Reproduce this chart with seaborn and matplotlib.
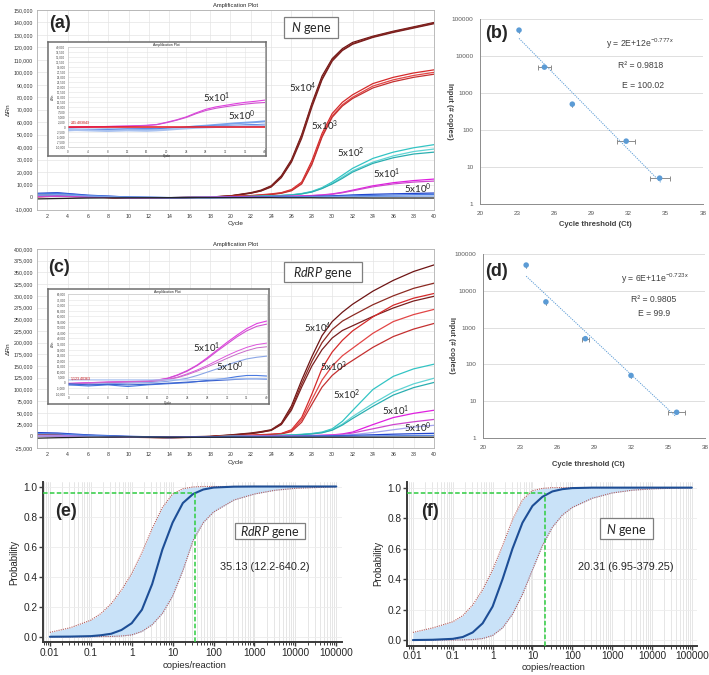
import matplotlib
matplotlib.use("Agg")
import matplotlib.pyplot as plt
import matplotlib.ticker as mticker
from matplotlib.patches import Rectangle
import seaborn as sns

W, H = 709, 675

# ---------------- data ----------------
# (a) N gene amplification, delta Rn per cycle
cycles = [1, 3, 6, 10, 14, 18, 20, 22, 23, 24, 25, 26, 27, 28, 29, 30, 31, 32, 34, 36, 38, 40]

a_e4 = [
    [1500, 1800, 500, -800, -500, 0, 1000, 3500, 5500, 9000, 17000, 30000, 50000, 75000, 97000, 111000, 119000, 124000, 129000, 133000, 136500, 140000],
    [1000, 1500, 300, -900, -600, 0, 900, 3200, 5000, 8500, 16000, 29000, 49000, 74000, 95000, 110000, 118000, 123000, 128500, 132500, 136000, 139500],
    [500, 1200, 200, -1000, -700, -100, 800, 3000, 4800, 8000, 15500, 28000, 47000, 72000, 94000, 109000, 117500, 122500, 128000, 132000, 135500, 139000],
]
a_e3 = [
    [500, 1000, 300, -800, -500, 0, 500, 1200, 1800, 2500, 3500, 6000, 12000, 29000, 51000, 67000, 76000, 82000, 91000, 96000, 99500, 102000],
    [300, 800, 200, -900, -600, -100, 400, 1000, 1500, 2200, 3200, 5500, 11000, 27000, 49000, 65000, 74000, 80000, 89000, 94000, 97500, 100000],
    [200, 700, 100, -1000, -600, -100, 300, 900, 1400, 2000, 3000, 5000, 10500, 26000, 48000, 64000, 73000, 79000, 87500, 92500, 96000, 98500],
]
a_e2 = [
    [800, 1000, 300, -500, -500, 0, 200, 500, 700, 1000, 1300, 1800, 2800, 4500, 7500, 12000, 17500, 23000, 31000, 36000, 39500, 42000],
    [600, 900, 200, -600, -500, 0, 200, 400, 600, 900, 1200, 1700, 2600, 4200, 7000, 11000, 16000, 21000, 28000, 33000, 36500, 38500],
    [500, 800, 200, -600, -600, -100, 100, 400, 600, 800, 1100, 1600, 2500, 4000, 6800, 10500, 15000, 20000, 27000, 31500, 34500, 36000],
]
a_e1 = [
    [500, 800, 200, -500, -500, -200, 0, 200, 300, 400, 500, 700, 900, 1200, 1700, 2500, 3800, 5500, 9000, 11500, 13200, 14400],
    [300, 600, 100, -600, -500, -200, 0, 150, 250, 350, 450, 600, 800, 1100, 1500, 2200, 3400, 5000, 8200, 10500, 12000, 12800],
]
a_e0 = [
    [3000, 3500, 1500, 0, -500, -500, -300, -200, -100, 0, 100, 200, 300, 500, 700, 1000, 1300, 1700, 2200, 2600, 2900, 3200],
    [2500, 3000, 1200, 0, -400, -500, -400, -300, -200, -100, 0, 100, 200, 300, 400, 600, 800, 1000, 1300, 1600, 1900, 2100],
    [1500, 2000, 800, -200, -500, -600, -500, -400, -400, -300, -300, -200, -200, -100, 0, 100, 200, 300, 400, 500, 700, 800],
]
a_ntc = [-1500, -1200, -800, -600, -500, -500, -500, -500, -500, -500, -600, -600, -600, -600, -700, -700, -700, -700, -800, -800, -800, -800]

# (c) RdRP gene amplification
c_e4 = [
    [6000, 5000, 2000, -1000, -2000, 0, 3000, 7000, 10000, 14000, 28000, 65000, 120000, 170000, 215000, 245000, 265000, 282000, 310000, 333000, 352000, 366000],
    [5000, 4000, 1500, -1500, -2500, -500, 2500, 6000, 9000, 13000, 26000, 60000, 112000, 160000, 200000, 228000, 246000, 258000, 281000, 300000, 316000, 327000],
    [4000, 3500, 1000, -1500, -2500, -500, 2000, 5500, 8500, 12500, 25000, 56000, 105000, 150000, 185000, 210000, 226000, 236000, 256000, 274000, 289000, 299000],
]
c_e3 = [
    [3000, 2500, 1000, -1500, -3000, -1000, 1000, 2500, 3500, 4500, 6000, 14000, 40000, 90000, 145000, 180000, 205000, 225000, 255000, 280000, 295000, 305000],
    [2500, 2000, 800, -1500, -3000, -1000, 800, 2000, 3000, 4000, 5500, 12000, 35000, 78000, 120000, 150000, 172000, 188000, 220000, 245000, 260000, 271000],
    [2000, 1500, 500, -2000, -3500, -1500, 500, 1500, 2500, 3500, 5000, 10000, 30000, 68000, 105000, 130000, 148000, 162000, 190000, 213000, 229000, 241000],
]
c_e2 = [
    [2000, 1500, 500, -1500, -2500, -1000, 0, 800, 1200, 1600, 2200, 3000, 4200, 6000, 9000, 16000, 32000, 55000, 100000, 128000, 144000, 154000],
    [1500, 1200, 300, -1500, -2500, -1000, 0, 600, 1000, 1400, 2000, 2700, 3800, 5400, 8000, 14000, 26000, 42000, 70000, 95000, 112000, 124000],
    [1200, 1000, 200, -1800, -3000, -1200, -200, 400, 800, 1200, 1800, 2500, 3500, 5000, 7500, 13000, 24000, 38000, 64000, 88000, 104000, 115000],
]
c_e1 = [
    [1500, 1200, 300, -1500, -2500, -1000, -500, 0, 200, 400, 600, 900, 1200, 1600, 2200, 3000, 5000, 9000, 25000, 40000, 49000, 55600],
    [1200, 1000, 200, -1500, -2500, -1000, -500, 0, 200, 300, 500, 800, 1000, 1400, 1900, 2600, 4000, 7000, 16000, 25000, 31000, 36000],
]
c_e0 = [
    [1000, 800, 0, -1500, -2500, -1200, -700, -300, -100, 0, 200, 400, 600, 800, 1100, 1500, 2200, 3500, 8000, 14000, 19500, 23500],
    [8000, 7000, 3000, 0, -2000, -1500, -1000, -800, -600, -400, -200, 0, 200, 400, 700, 1000, 1500, 2000, 3200, 4500, 5500, 6400],
    [6000, 5000, 2000, -500, -2500, -2000, -1500, -1200, -1000, -900, -800, -600, -500, -300, -100, 0, 200, 400, 800, 1200, 1600, 2000],
]
c_ntc = [-4000, -3000, -2000, -1500, -2000, -2000, -2000, -2000, -2000, -2000, -2000, -2000, -2000, -2000, -2000, -2000, -2000, -2000, -2000, -2000, -2000, -2000]

# insets (low copy numbers)
ins_cycles = [0, 4, 8, 12, 16, 18, 20, 22, 24, 26, 28, 30, 32, 34, 36, 38, 40]
ia_e1 = [
    [0, 200, 400, 600, 1000, 1400, 2500, 3700, 5200, 7200, 9000, 10200, 11000, 11800, 12500, 13000, 13600],
    [0, 200, 400, 600, 900, 1300, 2300, 3500, 4900, 6800, 8400, 9500, 10300, 11000, 11600, 12100, 12400],
]
ia_e0 = [
    [-1500, -1200, -1000, -1000, -1200, -1000, -800, -500, 0, 500, 800, 1200, 1600, 2000, 2300, 2600, 3000],
    [-800, -1000, -1200, -800, -600, -700, -500, -300, 0, 300, 500, 700, 900, 1100, 1300, 1400, 1600],
    [-1200, -1500, -1800, -1500, -1700, -1500, -1200, -800, -500, -200, 0, 200, 300, 400, 500, 600, 700],
]
ia_threshold = 241.403043

ic_e1 = [
    [-1000, 0, 500, 1000, 1500, 2500, 4000, 7000, 11000, 16000, 22500, 29500, 36500, 43000, 49000, 53500, 55800],
    [-1500, -500, 300, 800, 1300, 2300, 3800, 6700, 10500, 15500, 21500, 28500, 35000, 41500, 47000, 51000, 53000],
    [-500, 0, 500, 800, 1000, 1800, 3000, 5000, 8000, 11500, 15500, 20000, 24500, 28500, 32000, 34500, 35800],
    [-1000, -500, 200, 600, 800, 1500, 2700, 4500, 7200, 10500, 14200, 18000, 22000, 25800, 29000, 31500, 32500],
]
ic_e0 = [
    [-2000, -1500, -1000, -500, 0, 500, 1200, 2500, 4000, 6500, 9500, 12500, 16000, 19000, 21500, 23000, 24000],
    [-2000, -3000, -2000, -3500, -2000, -1500, -1000, -500, 0, 1000, 2000, 3000, 4000, 5500, 6500, 6500, 6000],
    [-1000, -2000, -1500, -2000, -1500, -1000, -500, 0, 500, 1000, 1500, 2000, 2500, 3000, 3500, 3500, 3200],
    [2500, 2500, 2500, 2500, 2500, 2500, 2500, 2500, 2500, 2800, 3000, 3200, 3300, 3400, 3500, 3500, 3500],
]

# (b) / (d) standard curves
input_copies = [50000, 5000, 500, 50, 5]
ct_b = [23.15, 25.2, 27.45, 31.8, 34.5]
ct_b_err = [0.0, 0.5, 0.0, 0.75, 0.8]
trend_b_ct = [23.15, 34.6]
trend_b_copies = [29900, 3.8]

ct_d = [23.5, 25.1, 28.3, 32.0, 35.7]
ct_d_err = [0.0, 0.0, 0.3, 0.0, 0.7]
trend_d_ct = [23.5, 35.65]
trend_d_copies = [25000, 3.8]

ct_ticks = [20, 23, 26, 29, 32, 35, 38]
copies_ticks = [1, 10, 100, 1000, 10000, 100000]

# (e) / (f) probit detection curves
conc = [0.01, 0.0316, 0.1, 0.178, 0.316, 0.562, 1, 1.78, 3.16, 5.62, 10, 17.8, 31.6, 56.2,
        100, 316, 1000, 3162, 10000, 100000]
e_mid = [0, 0.001, 0.004, 0.01, 0.02, 0.045, 0.09, 0.18, 0.35, 0.58, 0.76, 0.89, 0.95, 0.98,
         0.993, 0.999, 1, 1, 1, 1]
e_upper = [0.029, 0.06, 0.11, 0.155, 0.22, 0.31, 0.42, 0.56, 0.72, 0.86, 0.95, 0.985, 0.997, 1,
           1, 1, 1, 1, 1, 1]
e_lower = [0, 0, 0, 0.001, 0.002, 0.005, 0.012, 0.035, 0.08, 0.155, 0.27, 0.44, 0.64, 0.76,
           0.83, 0.91, 0.95, 0.975, 0.988, 0.998]
f_mid = [0, 0.002, 0.008, 0.02, 0.05, 0.11, 0.22, 0.4, 0.6, 0.77, 0.88, 0.94, 0.975, 0.99,
         0.997, 1, 1, 1, 1, 1]
f_upper = [0.05, 0.08, 0.12, 0.16, 0.23, 0.33, 0.46, 0.62, 0.79, 0.92, 0.98, 0.995, 1, 1,
           1, 1, 1, 1, 1, 1]
f_lower = [0, 0, 0, 0.001, 0.003, 0.01, 0.03, 0.08, 0.17, 0.3, 0.46, 0.62, 0.74, 0.82,
           0.87, 0.93, 0.965, 0.983, 0.992, 1]
lod_e, lod_f = 35.13, 20.31
conc_ticks = [0.01, 0.1, 1, 10, 100, 1000, 10000, 100000]
conc_labels = ["0.01", "0.1", "1", "10", "100", "1000", "10000", "100000"]

# ---------------- style ----------------
sns.set_theme(style="white")
plt.rcParams["font.family"] = ["Liberation Sans", "DejaVu Sans"]
plt.rcParams["mathtext.fontset"] = "custom"
plt.rcParams["mathtext.rm"] = "Lato"
plt.rcParams["mathtext.it"] = "Lato:italic"
plt.rcParams["mathtext.bf"] = "Lato:bold"

fig = plt.figure(figsize=(7.09, 6.75), dpi=100)


def fx(px):
    return px / W


def fy(py):
    return 1 - py / H


def rect(l, t, r, b):
    return [fx(l), fy(b), (r - l) / W, (b - t) / H]


def label(px, py, s, size=7, **kw):
    kw.setdefault("ha", "center")
    kw.setdefault("va", "center")
    fig.text(fx(px), fy(py), s, fontsize=size, **kw)


def gene_box(l, t, r, b, s, size=9):
    fig.add_artist(Rectangle((fx(l), fy(b)), (r - l) / W, (b - t) / H, transform=fig.transFigure,
                             facecolor="white", edgecolor="#7f7f7f", lw=0.9, zorder=4))
    label((l + r) / 2, (t + b) / 2 + 1, s, size=size, family="Lato", zorder=5)


# colour per dilution group
grp_cols = {
    "e4": ["#6e1414", "#8c2a22", "#7a1e1e"],
    "e3": ["#d42a2a", "#e24646", "#c43030"],
    "e2": ["#33c4c4", "#60d4d4", "#2aaeb0"],
    "e1": ["#e01fe0", "#cf46cf"],
    "e0": ["#2244cc", "#4a7ae0", "#7aa2ea"],
}


def amp_panel(ax, groups, ntc, ylim, ystep):
    for series, cols in groups:
        for vals, col in zip(series, cols):
            sns.lineplot(x=cycles, y=vals, ax=ax, color=col, lw=0.9, sort=False)
    sns.lineplot(x=cycles, y=ntc, ax=ax, color="#222222", lw=0.9, sort=False)
    ax.set_xlim(1, 40)
    ax.set_ylim(*ylim)
    ax.set_xticks(range(2, 41, 2))
    ax.yaxis.set_major_locator(mticker.MultipleLocator(ystep))
    ax.yaxis.set_major_formatter(mticker.FuncFormatter(lambda v, p: f"{v:,.0f}"))
    ax.grid(True, color="#e4e4e4", lw=0.5)
    ax.tick_params(labelsize=3.8, length=1.5, width=0.4, pad=1.5, colors="#333333")
    for sp in ax.spines.values():
        sp.set_color("#b0b0b0")
        sp.set_linewidth(0.6)
    ax.set_title("Amplification Plot", fontsize=4.2, pad=2.5)
    ax.set_xlabel("Cycle", fontsize=4.6, labelpad=2)
    ax.set_ylabel("ΔRn", fontsize=4.6, labelpad=2)


def inset(frame_box, ax_box, ylim, ystep, series_cols, thr_text, thr=None):
    fr = fig.add_axes(frame_box, zorder=2)
    fr.set_xticks([])
    fr.set_yticks([])
    fr.set_facecolor("white")
    for sp in fr.spines.values():
        sp.set_color("#6e6e6e")
        sp.set_linewidth(1.1)
    ax = fig.add_axes(ax_box, zorder=3)
    for vals, col, lw in series_cols:
        sns.lineplot(x=ins_cycles, y=vals, ax=ax, color=col, lw=lw, sort=False)
    if thr is not None:
        ax.axhline(thr, color="#e8141e", lw=1.1)
    ax.text(0.5, (thr or 0) + ystep * 0.3, thr_text, color="#d01010", fontsize=2.6, va="bottom")
    ax.set_xlim(0, 40)
    ax.set_ylim(*ylim)
    ax.set_xticks(range(0, 41, 4))
    ax.yaxis.set_major_locator(mticker.MultipleLocator(ystep))
    ax.yaxis.set_major_formatter(mticker.FuncFormatter(lambda v, p: f"{v:,.0f}"))
    ax.grid(True, color="#e4e4e4", lw=0.4)
    ax.tick_params(labelsize=2.2, length=1, width=0.3, pad=0.8, colors="#444444")
    for sp in ax.spines.values():
        sp.set_color("#c0c0c0")
        sp.set_linewidth(0.4)
    ax.set_title("Amplification Plot", fontsize=2.5, pad=1)
    ax.set_xlabel("Cycle", fontsize=2.3, labelpad=0.5)
    ax.set_ylabel("ΔRn", fontsize=2.3, labelpad=0.5)
    return ax


def excel_panel(ax, ct, ct_err, trend_x, trend_y):
    ax.errorbar(ct, input_copies, xerr=ct_err, fmt="none", ecolor="#8c8c8c",
                elinewidth=0.7, capsize=1.8, capthick=0.7, zorder=2)
    sns.lineplot(x=trend_x, y=trend_y, ax=ax, color="#5b9bd5", lw=0.7,
                 linestyle=(0, (1.2, 1.2)), sort=False)
    sns.scatterplot(x=ct, y=input_copies, ax=ax, color="#5b9bd5", s=16,
                    edgecolor="none", zorder=3)
    ax.set_yscale("log")
    ax.set_xlim(20, 38)
    ax.set_ylim(1, 100000)
    ax.set_xticks(ct_ticks)
    ax.set_yticks(copies_ticks)
    ax.set_yticklabels([str(v) for v in copies_ticks])
    ax.yaxis.set_minor_locator(mticker.NullLocator())
    ax.grid(True, axis="y", color="#d9d9d9", lw=0.6)
    ax.grid(False, axis="x")
    ax.tick_params(labelsize=4.6, colors="#595959", length=2.5, width=0.6, direction="inout")
    for side in ["top", "right"]:
        ax.spines[side].set_visible(False)
    for side in ["left", "bottom"]:
        ax.spines[side].set_color("#8c8c8c")
        ax.spines[side].set_linewidth(0.7)


def probit_panel(ax, mid, upper, lower, lod, xlim, ylim, lod_p):
    ax.fill_between(conc, lower, upper, color="#c9e2f8", lw=0, zorder=1)
    sns.lineplot(x=conc, y=upper, ax=ax, color="#b35c5c", lw=0.8, linestyle=(0, (1, 1)), sort=False)
    sns.lineplot(x=conc, y=lower, ax=ax, color="#b35c5c", lw=0.8, linestyle=(0, (1, 1)), sort=False)
    sns.lineplot(x=conc, y=mid, ax=ax, color="#1d4e96", lw=1.5, sort=False)
    ax.plot([xlim[0], lod], [lod_p, lod_p], color="#2ecc40", lw=1.1, ls=(0, (3, 1.5)), zorder=4)
    ax.plot([lod, lod], [ylim[0], lod_p], color="#2ecc40", lw=1.1, ls=(0, (3, 1.5)), zorder=4)
    ax.set_xscale("log")
    ax.set_xlim(*xlim)
    ax.set_ylim(*ylim)
    ax.xaxis.set_major_locator(mticker.FixedLocator(conc_ticks))
    ax.xaxis.set_major_formatter(mticker.FixedFormatter(conc_labels))
    ax.xaxis.set_minor_locator(mticker.LogLocator(base=10, subs=range(2, 10), numticks=20))
    ax.xaxis.set_minor_formatter(mticker.NullFormatter())
    ax.set_yticks([0, 0.2, 0.4, 0.6, 0.8, 1.0])
    ax.yaxis.set_major_formatter(mticker.FormatStrFormatter("%.1f"))
    ax.grid(True, which="both", axis="x", color="#e2e2e2", lw=0.6)
    ax.grid(True, which="major", axis="y", color="#ececec", lw=0.6)
    ax.tick_params(which="major", labelsize=7.3, length=3, width=1, color="#404040", pad=1,
                   bottom=True, left=True)
    ax.tick_params(which="minor", length=1.8, width=0.7, color="#404040", bottom=True)
    for side in ["top", "right"]:
        ax.spines[side].set_visible(False)
    for side in ["left", "bottom"]:
        ax.spines[side].set_color("#3a3a3a")
        ax.spines[side].set_linewidth(1.4)
    ax.set_xlabel("")
    ax.set_ylabel("Probability", fontsize=7, labelpad=3)


# ---------------- (a) ----------------
ax_a = fig.add_axes(rect(37, 10, 434, 209.5))
amp_panel(ax_a, [(a_e4, grp_cols["e4"]), (a_e3, grp_cols["e3"]), (a_e2, grp_cols["e2"]),
                 (a_e1, grp_cols["e1"]), (a_e0, grp_cols["e0"])],
          a_ntc, (-10000, 150000), 10000)
inset(rect(48, 42, 266, 156), rect(68, 47.3, 265, 147.3), (-10000, 40000), 2500,
      [(ia_e1[0], "#e040e0", 0.8), (ia_e1[1], "#d050d0", 0.8),
       (ia_e0[0], "#7aa2ea", 1.4), (ia_e0[1], "#4a7ae0", 0.6), (ia_e0[2], "#a9c2f0", 1.6)],
      "241.403043", ia_threshold)
label(60, 24, "(a)", size=13, weight="bold")
gene_box(284, 17, 338, 38, r"$\it{N}$ gene")
label(303, 88, r"5x10$^{4}$", family="Lato")
label(325, 126, r"5x10$^{3}$", family="Lato")
label(351, 153, r"5x10$^{2}$", family="Lato")
label(387, 174, r"5x10$^{1}$", family="Lato")
label(418, 189, r"5x10$^{0}$", family="Lato")
label(217, 98, r"5x10$^{1}$", family="Lato", zorder=6)
label(242, 116, r"5x10$^{0}$", family="Lato", zorder=6)

# ---------------- (c) ----------------
ax_c = fig.add_axes(rect(37, 249, 434, 448))
amp_panel(ax_c, [(c_e4, grp_cols["e4"]), (c_e3, grp_cols["e3"]), (c_e2, grp_cols["e2"]),
                 (c_e1, grp_cols["e1"]), (c_e0, ["#a5a5ee", "#2244cc", "#5a88e2"])],
          c_ntc, (-25000, 400000), 25000)
inset(rect(48, 289, 269, 404), rect(68.3, 294.3, 266.7, 393.7), (-10000, 80000), 5000,
      [(ic_e1[0], "#e040e0", 0.8), (ic_e1[1], "#d050d0", 0.8),
       (ic_e1[2], "#dd55dd", 0.7), (ic_e1[3], "#c86ac8", 0.7),
       (ic_e0[0], "#8aa6e6", 0.8), (ic_e0[1], "#4a7ae0", 0.8), (ic_e0[2], "#3a62d0", 0.8),
       (ic_e0[3], "#a9c2f0", 0.9)],
      "1,123.40363", None)
label(59, 267, "(c)", size=13, weight="bold")
gene_box(284, 262, 362, 282, r"$\it{RdRP}$ gene")
label(318, 328, r"5x10$^{4}$", family="Lato")
label(334, 367, r"5x10$^{3}$", family="Lato")
label(347, 395, r"5x10$^{2}$", family="Lato")
label(396, 411, r"5x10$^{1}$", family="Lato")
label(418, 428, r"5x10$^{0}$", family="Lato")
label(207, 348, r"5x10$^{1}$", family="Lato", zorder=6)
label(230, 367, r"5x10$^{0}$", family="Lato", zorder=6)

# ---------------- (b) ----------------
ax_b = fig.add_axes(rect(480, 19, 703, 204))
excel_panel(ax_b, ct_b, ct_b_err, trend_b_ct, trend_b_copies)
label(497, 34, "(b)", size=13, weight="bold")
label(640, 44, r"y = 2E+12e$^{-0.777x}$", size=6.2, color="#404040")
label(641, 65, "R² = 0.9818", size=6.2, color="#404040")
label(643, 85, "E = 100.02", size=6.2, color="#404040")
label(449, 111, "Input (# copies)", size=5.5, weight="bold", rotation=270, color="#404040")
label(595, 225, "Cycle threshold (Ct)", size=5.5, weight="bold", color="#404040")

# ---------------- (d) ----------------
ax_d = fig.add_axes(rect(483, 254, 705, 438))
excel_panel(ax_d, ct_d, ct_d_err, trend_d_ct, trend_d_copies)
label(497, 272, "(d)", size=13, weight="bold")
label(655, 279, r"y = 6E+11e$^{-0.723x}$", size=6.2, color="#404040")
label(654, 299, "R² = 0.9805", size=6.2, color="#404040")
label(654, 314, "E = 99.9", size=6.2, color="#404040")
label(451, 345, "Input (# copies)", size=5.5, weight="bold", rotation=270, color="#404040")
label(588, 464, "Cycle threshold (Ct)", size=5.5, weight="bold", color="#404040")

# ---------------- (e) ----------------
ax_e = fig.add_axes(rect(43, 482, 342, 642))
probit_panel(ax_e, e_mid, e_upper, e_lower, lod_e, (0.0068, 138000), (-0.035, 1.03), 0.955)
label(66, 512, "(e)", size=13, weight="bold")
gene_box(235, 523, 305, 539, r"$\it{RdRP}$ gene")
label(265, 567, "35.13 (12.2-640.2)", size=7.8)
label(195, 666, "copies/reaction", size=6.8)

# ---------------- (f) ----------------
ax_f = fig.add_axes(rect(407, 482, 697, 645.7))
probit_panel(ax_f, f_mid, f_upper, f_lower, lod_f, (0.0071, 135000), (-0.037, 1.037), 0.962)
label(430, 512, "(f)", size=13, weight="bold")
gene_box(600, 518, 653, 539, r"$\it{N}$ gene")
label(626, 567, "20.31 (6.95-379.25)", size=7.8)
label(554, 668, "copies/reaction", size=6.8)

fig.savefig("out.png", dpi=100)
